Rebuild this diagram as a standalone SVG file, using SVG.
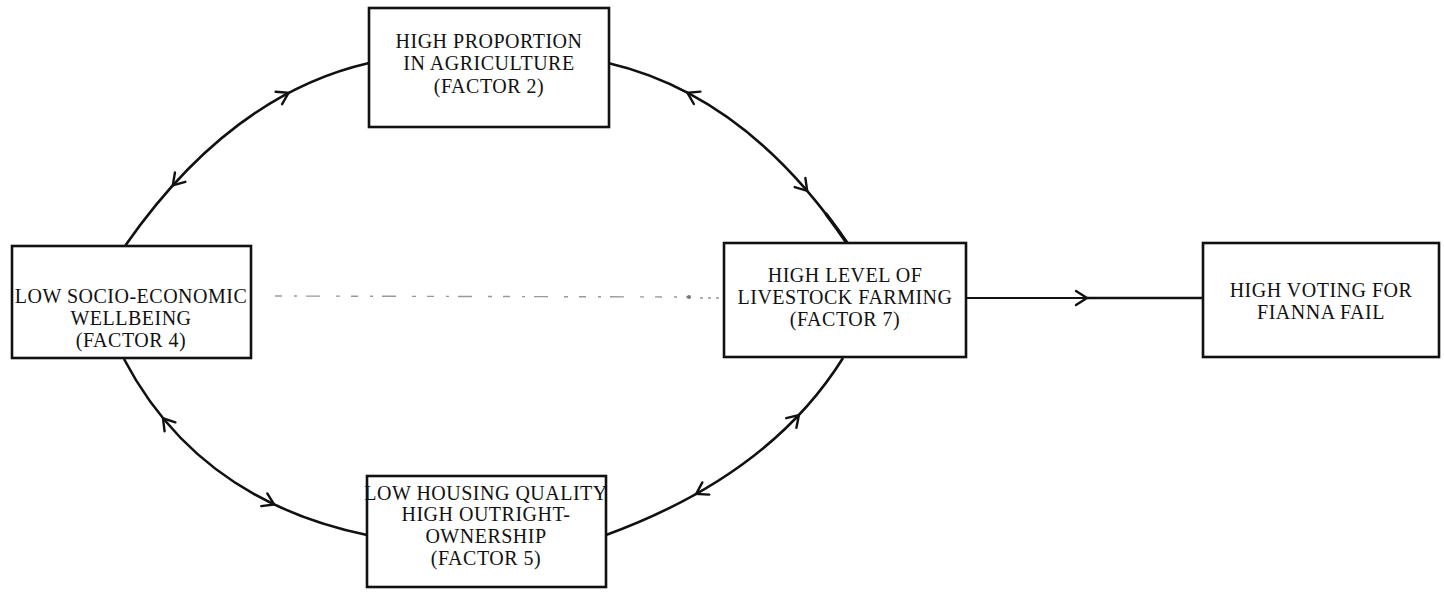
<svg xmlns="http://www.w3.org/2000/svg" width="1444" height="595" viewBox="0 0 1444 595">
<style>
.box{fill:#fff;stroke:#111;stroke-width:2.6}
.t{font-family:"Liberation Serif","Times New Roman",serif;font-size:20px;fill:#111;text-anchor:middle;letter-spacing:0.5px}
.arc{fill:none;stroke:#111;stroke-width:2.6}
.ah{fill:none;stroke:#111;stroke-width:2.4;stroke-linecap:round;stroke-linejoin:miter}
.dash{fill:none;stroke:#999;stroke-width:1.4;stroke-dasharray:7 12 3 9 14 16 4 11}
</style>
<defs>
<path id="chev" d="M-11,-7 L0,0 L-11,7"/>
</defs>
<rect width="1444" height="595" fill="#fff"/>
<g id="connectors">
<path class="arc" d="M369,63 Q230,95 125,246"/>
<path class="arc" d="M608,63 Q746,95 847,243"/>
<path class="arc" d="M826.4,214.5 Q836.9,228.2 847,243" style="stroke-width:3.6;stroke-linecap:round"/>
<path class="arc" d="M124,359 Q198,500 367,535"/>
<path class="arc" d="M843,358 Q770,475 606,535"/>
<path class="arc" d="M966,298 L1087,298" style="stroke-width:1.8"/>
<path class="arc" d="M1087,298 L1203,298" style="stroke-width:2.6"/>
<path class="dash" d="M275,296 L688,297"/>
<circle cx="689" cy="297" r="2" fill="#777"/>
<path class="dash" d="M700,298 L722,298" style="stroke-dasharray:3 5"/>
<path class="dash" d="M726,300 L966,300" style="stroke:#ccc;stroke-width:1;stroke-dasharray:2 3"/>
<use href="#chev" class="ah" transform="translate(288.6,92.9) rotate(-27.7)"/>
<use href="#chev" class="ah" transform="translate(172.8,185.3) rotate(132)"/>
<use href="#chev" class="ah" transform="translate(687.4,92.7) rotate(-152.2)"/>
<use href="#chev" class="ah" transform="translate(807.2,190.9) rotate(49.4)"/>
<use href="#chev" class="ah" transform="translate(163,418.3) rotate(-129.4)"/>
<use href="#chev" class="ah" transform="translate(274.2,504.5) rotate(25.4)"/>
<use href="#chev" class="ah" transform="translate(798.9,415) rotate(-46.6)"/>
<use href="#chev" class="ah" transform="translate(696.2,493.9) rotate(150.6)"/>
<use href="#chev" class="ah" transform="translate(1087,298)"/>
</g>
<g id="node-agriculture">
<rect class="box" x="369" y="8" width="240" height="119"/>
<text class="t" x="489" y="48">HIGH PROPORTION</text>
<text class="t" x="489" y="70">IN AGRICULTURE</text>
<text class="t" x="489" y="93">(FACTOR 2)</text>
</g>
<g id="node-wellbeing">
<rect class="box" x="12" y="246" width="239" height="112"/>
<text class="t" x="131" y="303">LOW SOCIO-ECONOMIC</text>
<text class="t" x="131" y="325">WELLBEING</text>
<text class="t" x="131" y="347">(FACTOR 4)</text>
</g>
<g id="node-livestock">
<rect class="box" x="724" y="243" width="242" height="114"/>
<text class="t" x="845" y="282">HIGH LEVEL OF</text>
<text class="t" x="845" y="304">LIVESTOCK FARMING</text>
<text class="t" x="845" y="326">(FACTOR 7)</text>
</g>
<g id="node-voting">
<rect class="box" x="1203" y="243" width="236" height="114"/>
<text class="t" x="1321" y="297">HIGH VOTING FOR</text>
<text class="t" x="1321" y="319">FIANNA FAIL</text>
</g>
<g id="node-housing">
<rect class="box" x="367" y="476" width="239" height="111"/>
<text class="t" x="486" y="500">LOW HOUSING QUALITY</text>
<text class="t" x="486" y="521">HIGH OUTRIGHT-</text>
<text class="t" x="486" y="543">OWNERSHIP</text>
<text class="t" x="486" y="565">(FACTOR 5)</text>
</g>
</svg>
